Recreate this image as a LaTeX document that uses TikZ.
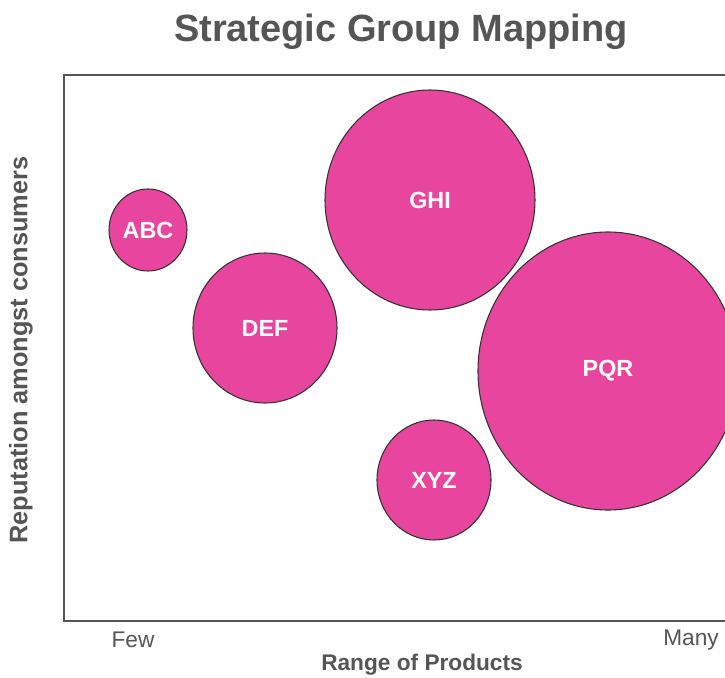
\documentclass[tikz,border=0pt]{standalone}
\usepackage{fontspec}
\setmainfont{Liberation Sans}
\usetikzlibrary{shapes.geometric}

\definecolor{bubblePink}{RGB}{232,70,158}
\definecolor{axisGray}{RGB}{85,85,85}

\begin{document}
\begin{tikzpicture}[x=0.75pt,y=-0.75pt]
\tikzstyle{bubble} = [ellipse, draw=black!80, line width=0.8pt, fill=bubblePink, text=white, font=\fontsize{17.5}{20}\selectfont\bfseries, inner sep=0pt]
\tikzstyle{frame} = [draw=axisGray, line width=1.5pt]
\tikzstyle{axisText} = [text=axisGray, font=\fontsize{17}{20}\selectfont, inner sep=0pt]

\useasboundingbox (0,0) rectangle (725,678);
\clip (0,0) rectangle (725,678);

% Title
\node [font=\fontsize{28.5}{34}\selectfont\bfseries, text=axisGray] (title) at (401,32) {Strategic Group Mapping};

% Plot frame (runs off the right edge)
\draw [frame] (64,75) rectangle (780,621);

% Groups
\node [bubble, minimum width=58.5pt, minimum height=61.5pt] (abc) at (148,230) {ABC};
\node [bubble, minimum width=108pt, minimum height=112.5pt] (def) at (265,328) {DEF};
\node [bubble, minimum width=157.5pt, minimum height=165pt] (ghi) at (430,200) {GHI};
\node [bubble, minimum width=85.5pt, minimum height=90pt] (xyz) at (434,480) {XYZ};
\node [bubble, minimum width=195pt, minimum height=208.5pt] (pqr) at (608,371) {PQR};

% Axis labels
\node [axisText] (few) at (133,640) {Few};
\node [axisText] (many) at (691,640) {Many};
\node [axisText, font=\fontsize{17}{20}\selectfont\bfseries] (xLabel) at (422,665) {Range of Products};
\node [axisText, font=\fontsize{19}{22}\selectfont\bfseries, rotate=90] (yLabel) at (21,350) {Reputation amongst consumers};

\end{tikzpicture}
\end{document}
